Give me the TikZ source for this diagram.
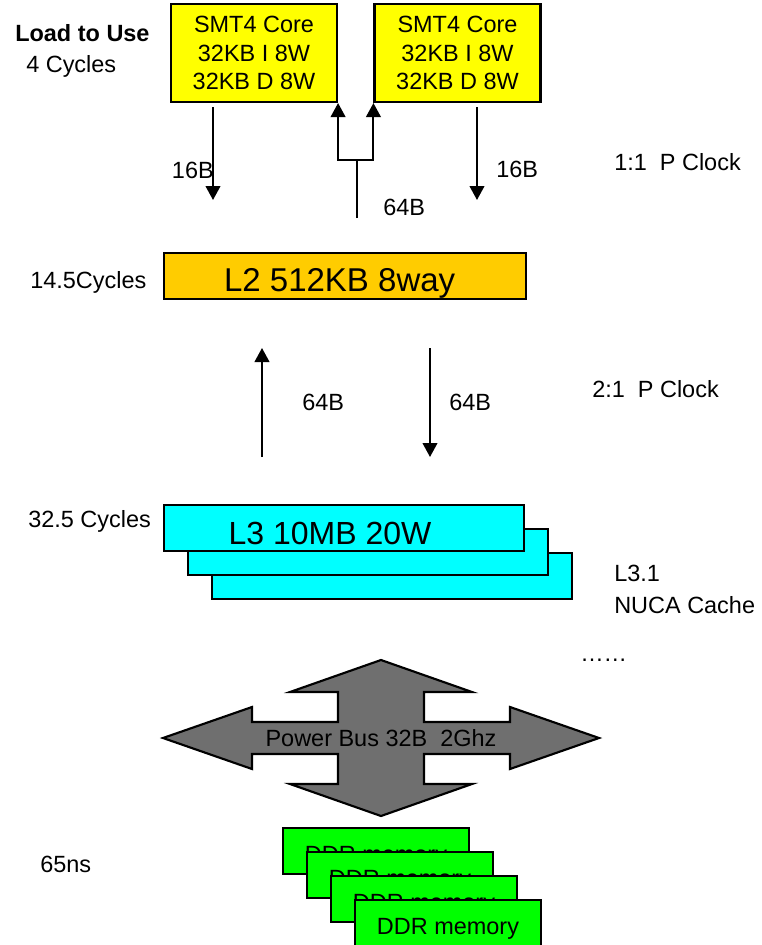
\documentclass[tikz,border=0pt]{standalone}
\usepackage{fontspec}
\setmainfont{Liberation Sans}
\usetikzlibrary{arrows.meta}

\definecolor{coreyellow}{HTML}{FFFF00}
\definecolor{ltwo}{HTML}{FFCC00}
\definecolor{lthree}{HTML}{00FFFF}
\definecolor{ddrgreen}{HTML}{00FF00}
\definecolor{busgray}{HTML}{6F6F6F}

\begin{document}
\begin{tikzpicture}[
    x=0.75pt, y=-0.75pt,
    font=\fontsize{17.6}{21.4}\selectfont,
    box/.style     = {draw=black, line width=1.6pt, rectangle, inner sep=0pt},
    corebox/.style = {box, fill=coreyellow, minimum width=124.5pt, minimum height=73.5pt, align=center},
    l2box/.style   = {box, fill=ltwo, minimum width=271.5pt, minimum height=34.5pt,
                      font=\fontsize{24.75}{28}\selectfont, text height=23pt, text depth=0pt},
    l3box/.style   = {box, fill=lthree, minimum width=270pt, minimum height=34.5pt,
                      font=\fontsize{24}{28}\selectfont, text height=24.7pt, text depth=0pt},
    ddrbox/.style  = {box, fill=ddrgreen, minimum width=139.5pt, minimum height=34pt,
                      text height=16.6pt, text depth=0pt},
    flow/.style    = {line width=1.5pt, -{Triangle[width=11pt,length=10.5pt]}},
    wire/.style    = {line width=1.5pt},
    note/.style    = {inner sep=0pt, anchor=west}
  ]
\useasboundingbox (0,0) rectangle (762,945);

% ---------------- cores ----------------
\node[corebox] (core1) at (254,53)   {SMT4 Core\\32KB I 8W\\32KB D 8W};
\node[corebox] (core2) at (457.5,53) {SMT4 Core\\32KB I 8W\\32KB D 8W};

\node[note, font=\fontsize{17.6}{21.4}\bfseries] (loaduse) at (15,33) {Load to Use};
\node[note] (loadcyc) at (26,66) {4 Cycles};

% core -> L2 (16B each)
\coordinate (c1end) at (213,200);
\coordinate (c2end) at (477,200);
\draw[flow, shorten <=3pt] (core1.south -| c1end) -- (c1end);
\draw[flow, shorten <=3pt] (core2.south -| c2end) -- (c2end);
\node[note, anchor=east] (w16a) at (214,170) {16B};
\node[note] (w16b) at (496,169) {16B};

% L2 -> cores (64B, split)
\coordinate (feed)  at (357,218);
\coordinate (split) at (357,160);
\draw[wire] (feed) -- (split);
\draw[flow] (split) -| (core1.south east);
\draw[flow] (split) -| (core2.south west);
\node[note] (w64a) at (383,207) {64B};

\node[note] (clk1) at (614,162) {1:1\ \ P Clock};

% ---------------- L2 ----------------
\node[l2box] (l2) at (345,276) {L2 512KB 8way\kern8pt};
\node[note] (l2cyc) at (30,282) {14.5Cycles};

% L2 <-> L3
\coordinate (upfrom) at (262,457);
\coordinate (upto)   at (262,348);
\coordinate (dnfrom) at (430,348);
\coordinate (dnto)   at (430,457);
\draw[flow] (upfrom) -- (upto);
\draw[flow] (dnfrom) -- (dnto);
\node[note] (w64b) at (302,402) {64B};
\node[note] (w64c) at (449,402) {64B};

\node[note] (clk2) at (592,389) {2:1\ \ P Clock};

% ---------------- L3 stack (back to front) ----------------
\node[l3box] (l3c) at (392,576) {};
\node[l3box] (l3b) at (368,552) {};
\node[l3box] (l3a) at (344,528) {L3 10MB 20W\kern21pt};
\node[note] (l3cyc) at (28,521) {32.5 Cycles};
\node[note, align=left, font=\fontsize{17.6}{24}\selectfont] (nuca) at (614,589) {L3.1\\NUCA Cache};
\node[note] (more) at (580,660) {……};

% ---------------- power bus ----------------
\begin{scope}[shift={(381,738)}]
  \filldraw[fill=busgray, draw=black, line width=1.6pt]
    (-218,0) -- (-129,-31) -- (-129,-16) -- (-43,-16) -- (-43,-46) -- (-91,-46)
    -- (0,-78) -- (91,-46) -- (43,-46) -- (43,-16) -- (129,-16) -- (129,-31)
    -- (218,0) -- (129,31) -- (129,16) -- (43,16) -- (43,46) -- (91,46)
    -- (0,78) -- (-91,46) -- (-43,46) -- (-43,16) -- (-129,16) -- (-129,31) -- cycle;
\end{scope}
\node[inner sep=0pt] (bus) at (381,738) {Power Bus 32B\ \ 2Ghz};

% ---------------- memory ----------------
\foreach \i/\x/\y in {1/376/851, 2/400/875, 3/424/899, 4/448/923}
  \node[ddrbox] (ddr\i) at (\x,\y) {DDR memory};
\node[note] (memlat) at (40,864) {65ns};

\end{tikzpicture}
\end{document}
